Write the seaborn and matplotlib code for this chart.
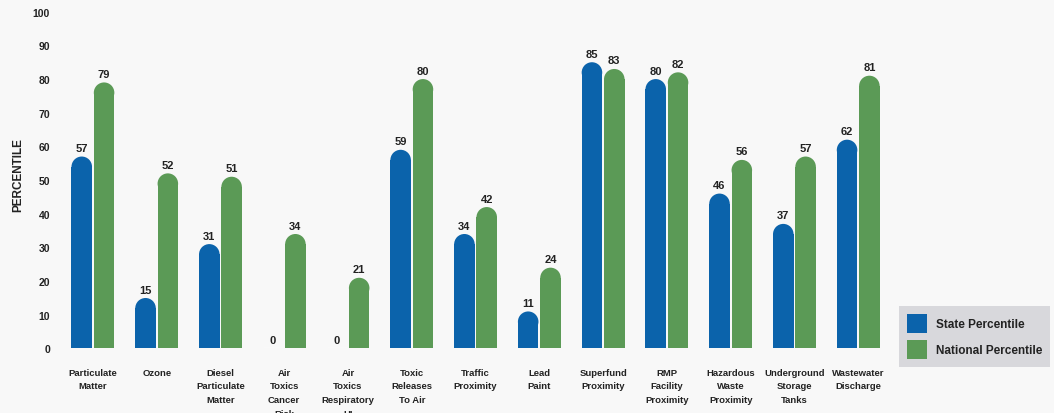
import pandas as pd
import matplotlib
matplotlib.use('Agg')
import matplotlib.pyplot as plt
import seaborn as sns
from matplotlib.patches import Ellipse, Patch

categories = ['Particulate\nMatter', 'Ozone', 'Diesel\nParticulate\nMatter',
              'Air\nToxics\nCancer\nRisk', 'Air\nToxics\nRespiratory\nHI',
              'Toxic\nReleases\nTo Air', 'Traffic\nProximity', 'Lead\nPaint',
              'Superfund\nProximity', 'RMP\nFacility\nProximity',
              'Hazardous\nWaste\nProximity', 'Underground\nStorage\nTanks',
              'Wastewater\nDischarge']
state_pct = [57, 15, 31, 0, 0, 59, 34, 11, 85, 80, 46, 37, 62]
national_pct = [79, 52, 51, 34, 21, 80, 42, 24, 83, 82, 56, 57, 81]
series = ['State Percentile', 'National Percentile']
colors = ['#0b63ab', '#5b9a56']

df = pd.DataFrame({
    'category': categories * 2,
    'value': state_pct + national_pct,
    'series': [series[0]] * len(categories) + [series[1]] * len(categories),
})

sns.set_style('white')
plt.rcParams['font.family'] = ['Liberation Sans', 'DejaVu Sans']

fig = plt.figure(figsize=(10.54, 4.14), dpi=100)
fig.patch.set_facecolor('#f8f8f8')
ax = fig.add_axes([0.0579, 0.1558, 0.7866, 0.8135])
ax.set_facecolor('#f8f8f8')

sns.barplot(data=df, x='category', y='value', hue='series', palette=colors,
            saturation=1, width=0.7, gap=0.08, ax=ax, legend=False)

ax.set_xlim(-0.5, len(categories) - 0.5)
ax.set_ylim(0, 100)

# rounded tops: shorten each bar by the cap radius and put a half-ellipse on it
p0 = ax.transData.transform((0, 0))
p1 = ax.transData.transform((1, 1))
aspect = (p1[0] - p0[0]) / (p1[1] - p0[1])
bars = list(ax.patches)
for bar in bars:
    h = bar.get_height()
    if h <= 0:
        continue
    w = bar.get_width()
    ry = w / 2 * aspect
    cx = bar.get_x() + w / 2
    bar.set_height(max(h - ry, 0))
    bar.set_edgecolor('none')
    cap = Ellipse((cx, h - ry), w, 2 * ry, facecolor=bar.get_facecolor(),
                  edgecolor='none')
    ax.add_patch(cap)

for bar, h in zip(bars, df['value']):
    ax.annotate(f'{h:.0f}', (bar.get_x() + bar.get_width() / 2, h),
                xytext=(0, 2.5), textcoords='offset points', ha='center',
                va='bottom', fontsize=8, fontweight='bold', color='#222222')

sns.despine(ax=ax, left=True, bottom=True)
ax.set_yticks(range(0, 101, 10))
ax.tick_params(axis='y', length=0, pad=8, labelsize=7.5, labelcolor='#222222')
ax.tick_params(axis='x', length=0, pad=14, labelsize=6.8, labelcolor='#222222')
for lbl in ax.get_yticklabels() + ax.get_xticklabels():
    lbl.set_fontweight('bold')
for lbl in ax.get_xticklabels():
    lbl.set_linespacing(1.65)
ax.set_xlabel('')
ax.set_ylabel('PERCENTILE', fontsize=8.5, fontweight='bold', color='#222222',
              va='center')
ax.yaxis.set_label_coords(-0.052, 0.518)

handles = [Patch(facecolor=c, edgecolor='none') for c in colors]
leg = fig.legend(handles, series, loc='lower left', bbox_to_anchor=(0.853, 0.111),
                 frameon=True, fancybox=False, facecolor='#d8d8dc',
                 edgecolor='none', framealpha=1, handlelength=1.7,
                 handleheight=2.1, handletextpad=0.7, labelspacing=0.55,
                 borderpad=0.7, borderaxespad=0,
                 prop={'size': 8.5, 'weight': 'bold'})
for t in leg.get_texts():
    t.set_color('#222222')

fig.savefig('out.png', dpi=100, facecolor=fig.get_facecolor())
